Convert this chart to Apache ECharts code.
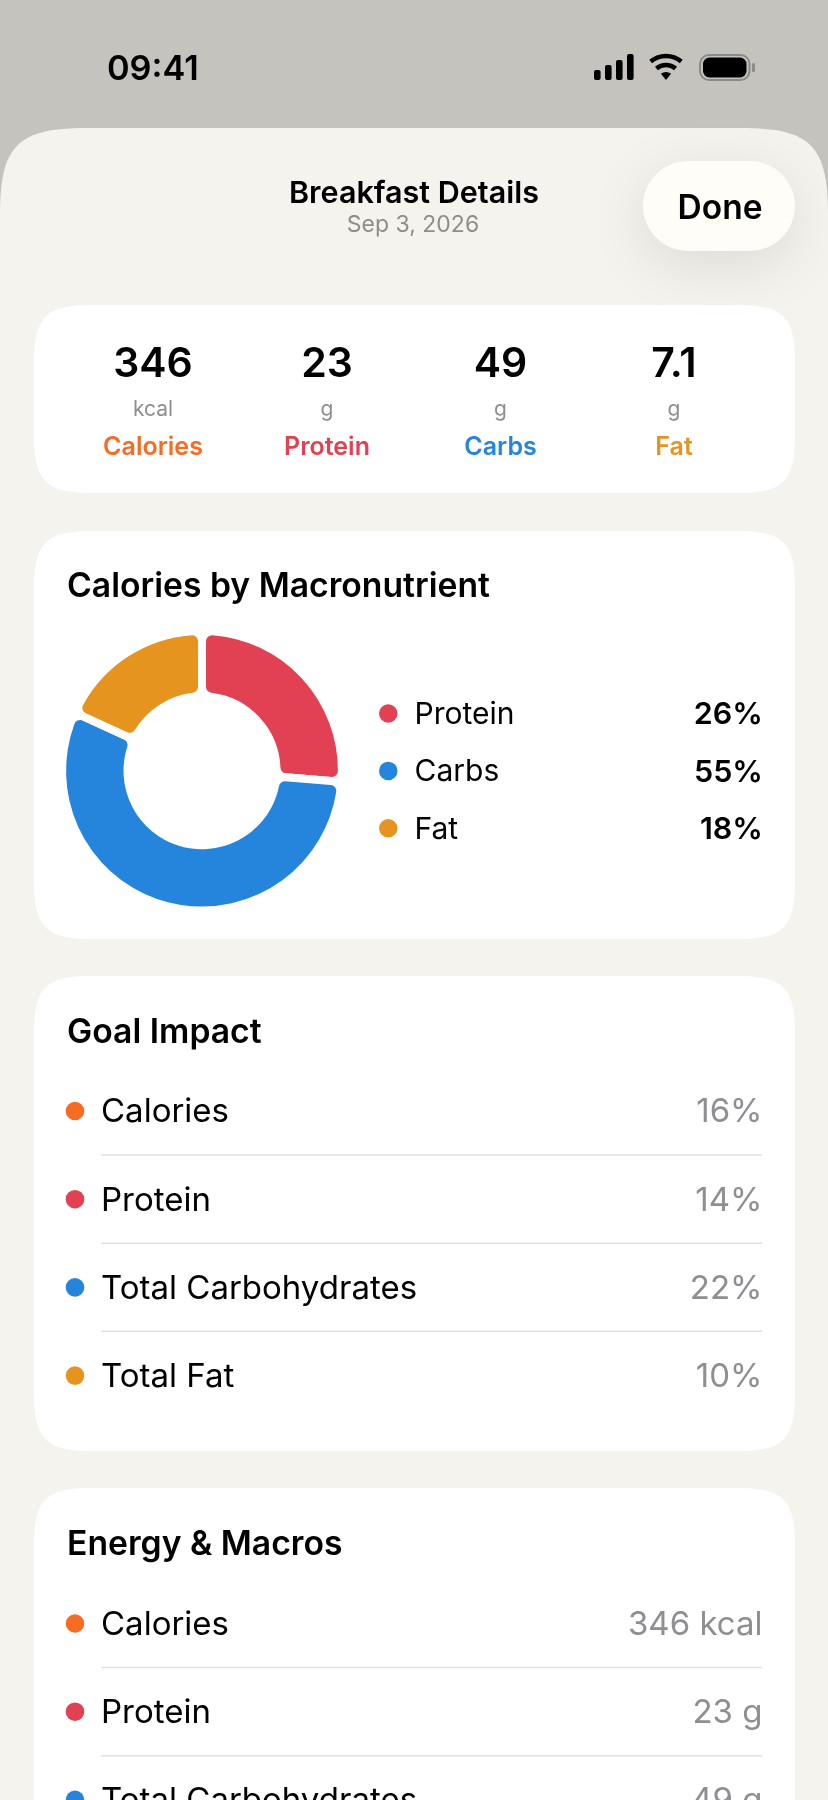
<!DOCTYPE html>
<html>
<head>
<meta charset="utf-8">
<style>
html, body { margin: 0; padding: 0; background: #f4f3ee; }
#chart { width: 828px; height: 1800px; overflow: hidden; }
</style>
<script src="https://cdn.jsdelivr.net/npm/echarts@6/dist/echarts.min.js"></script>
</head>
<body>
<div id="chart"></div>
<script>
// summary card
const summaryValues = ["346", "23", "49", "7.1"];
const summaryUnits = ["kcal", "g", "g", "g"];
const summaryLabels = ["Calories", "Protein", "Carbs", "Fat"];

// donut
const macroNames = ["Protein", "Carbs", "Fat"];
const macroPercents = [26, 55, 18];

// list cards
const goalNames = ["Calories", "Protein", "Total Carbohydrates", "Total Fat"];
const goalValues = ["16%", "14%", "22%", "10%"];
const energyNames = ["Calories", "Protein", "Total Carbohydrates"];
const energyValues = ["346 kcal", "23 g", "49 g"];

const ORANGE = "#f66c22";
const RED = "#e24053";
const BLUE = "#2585dc";
const AMBER = "#e5951f";
const summaryColors = [ORANGE, RED, BLUE, AMBER];
const macroColors = [RED, BLUE, AMBER];
const rowColors = [ORANGE, RED, BLUE, AMBER];

const FONT = "Inter, 'Noto Sans', sans-serif";

// iOS 风格的连续圆角
echarts.graphic.registerShape("squircle", echarts.graphic.extendShape({
    shape: { x: 0, y: 0, width: 0, height: 0, r: 0 },
    buildPath(ctx, s) {
        const k = s.r * 1.45;
        const c = k * 0.2;
        const x = s.x;
        const y = s.y;
        const x2 = x + s.width;
        const y2 = y + s.height;
        ctx.moveTo(x + k, y);
        ctx.lineTo(x2 - k, y);
        ctx.bezierCurveTo(x2 - c, y, x2, y + c, x2, y + k);
        ctx.lineTo(x2, y2 - k);
        ctx.bezierCurveTo(x2, y2 - c, x2 - c, y2, x2 - k, y2);
        ctx.lineTo(x + k, y2);
        ctx.bezierCurveTo(x + c, y2, x, y2 - c, x, y2 - k);
        ctx.lineTo(x, y + k);
        ctx.bezierCurveTo(x, y + c, x + c, y, x + k, y);
        ctx.closePath();
    }
}));

// Inter 的 middle 偏高，统一下移
function label(text, x, y, size, weight, fill, align) {
    return {
        type: "text", x: x, y: y + 2.5, silent: true,
        style: {
            text: text, fontSize: size, fontWeight: weight, fontFamily: FONT,
            fill: fill, align: align || "left", verticalAlign: "middle"
        }
    };
}

function card(y, h) {
    return { type: "squircle", silent: true, shape: { x: 34, y: y, width: 761, height: h, r: 40 }, style: { fill: "#ffffff" } };
}

function dot(x, y, color) {
    return { type: "circle", silent: true, shape: { cx: x, cy: y, r: 9.3 }, style: { fill: color } };
}

// 带圆点、分隔线的列表
function listRows(names, values, firstY, dividers) {
    const out = [];
    names.forEach((name, i) => {
        const y = firstY + i * 88.2;
        out.push(dot(75, y, rowColors[i]));
        out.push(label(name, 101, y - 1, 33, 400, "#000000"));
        out.push(label(values[i], 762.5, y - 1, 33, 400, "#8e8e93", "right"));
        if (i < dividers) {
            out.push({
                type: "rect", silent: true,
                shape: { x: 101, y: y + 43.2, width: 661, height: 1.5 },
                style: { fill: "#e2e2e2" }
            });
        }
    });
    return out;
}

function statusIcons() {
    const out = [];
    [[594, 70], [605, 65], [616, 60], [627, 54]].forEach(b => {
        out.push({ type: "rect", silent: true, shape: { x: b[0], y: b[1], width: 6.6, height: 80 - b[1], r: 2 }, style: { fill: "#000" } });
    });
    [[24, 4.6], [15, 4.6]].forEach(a => {
        out.push({
            type: "arc", silent: true,
            shape: { cx: 666, cy: 80, r: a[0], startAngle: -Math.PI * 0.72, endAngle: -Math.PI * 0.28 },
            style: { fill: null, stroke: "#000", lineWidth: a[1] }
        });
    });
    out.push({
        type: "sector", silent: true,
        shape: { cx: 666, cy: 80, r: 8, r0: 0, startAngle: -Math.PI * 0.72, endAngle: -Math.PI * 0.28 },
        style: { fill: "#000" }
    });
    out.push({ type: "rect", silent: true, shape: { x: 700, y: 55, width: 49.5, height: 25, r: 9 }, style: { fill: null, stroke: "#8b8b86", lineWidth: 2 } });
    out.push({ type: "rect", silent: true, shape: { x: 703, y: 57.5, width: 43.5, height: 20, r: 6.5 }, style: { fill: "#000" } });
    out.push({ type: "rect", silent: true, shape: { x: 752, y: 63, width: 3, height: 9, r: 1.5 }, style: { fill: "#8b8b86" } });
    return out;
}

const columns = [153, 327, 500.5, 674];

const elements = [
    { type: "rect", silent: true, shape: { x: 0, y: 0, width: 828, height: 1800 }, style: { fill: "#c4c3be" } },
    { type: "squircle", silent: true, shape: { x: 0, y: 128, width: 828, height: 1800, r: 60 }, style: { fill: "#f4f3ee" } },
    label("09:41", 107, 67, 34.3, 600, "#000000"),
    ...statusIcons(),
    label("Breakfast Details", 414, 191.5, 30.5, 600, "#000000", "center"),
    label("Sep 3, 2026", 413, 223, 23, 400, "#8f8e86", "center"),
    card(305, 188),
    ...summaryValues.map((v, i) => label(v, columns[i], 362.5, 41, 600, "#000000", "center")),
    ...summaryUnits.map((v, i) => label(v, columns[i], 407.5, 21, 400, "#8e8e93", "center")),
    ...summaryLabels.map((v, i) => label(v, columns[i], 444.5, 25, 600, summaryColors[i], "center")),
    card(531, 408),
    label("Calories by Macronutrient", 67, 584.5, 33.7, 600, "#000000"),
    card(976, 475),
    label("Goal Impact", 67, 1030.5, 33.7, 600, "#000000"),
    ...listRows(goalNames, goalValues, 1111, 3),
    card(1488, 420),
    label("Energy & Macros", 67, 1542.5, 33.7, 600, "#000000"),
    ...listRows(energyNames, energyValues, 1623.5, 2),
    // Done 按钮的阴影压在卡片上方
    {
        type: "rect", silent: true, z: 1, shape: { x: 643, y: 161, width: 152, height: 90, r: 45 },
        style: { fill: "#fffdf8", shadowBlur: 60, shadowOffsetY: 14, shadowColor: "rgba(0,0,0,0.10)" }
    },
    Object.assign(label("Done", 720, 206.5, 33.5, 600, "#000000", "center"), { z: 1 })
];

const chart = echarts.init(document.getElementById("chart"));
chart.setOption({
    animation: false,
    graphic: { elements: elements },
    legend: {
        orient: "vertical",
        left: 379,
        top: 696.5,
        padding: 0,
        selectedMode: false,
        icon: "circle",
        itemWidth: 18.5,
        itemHeight: 18.5,
        itemGap: 23.4,
        itemStyle: { borderWidth: 0 },
        data: macroNames,
        formatter: name => `{n|${name}}{v|${macroPercents[macroNames.indexOf(name)]}%}`,
        textStyle: {
            padding: [0, 0, 0, 12],
            rich: {
                n: { width: 258, fontSize: 30, fontFamily: FONT, fontWeight: 400, color: "#000", lineHeight: 30, padding: [3, 0, 0, 0] },
                v: { width: 90.5, align: "right", fontSize: 30.5, fontFamily: FONT, fontWeight: 600, color: "#000", lineHeight: 30, padding: [3, 0, 0, 0] }
            }
        }
    },
    series: [{
        type: "pie",
        silent: true,
        center: [202, 770.7],
        radius: [74.5, 139.9],
        startAngle: 90,
        clockwise: true,
        label: { show: false },
        labelLine: { show: false },
        itemStyle: { borderColor: "#ffffff", borderWidth: 8, borderRadius: 10 },
        data: macroNames.map((name, i) => ({
            name: name,
            value: macroPercents[i],
            itemStyle: { color: macroColors[i] }
        }))
    }]
});
</script>
</body>
</html>
